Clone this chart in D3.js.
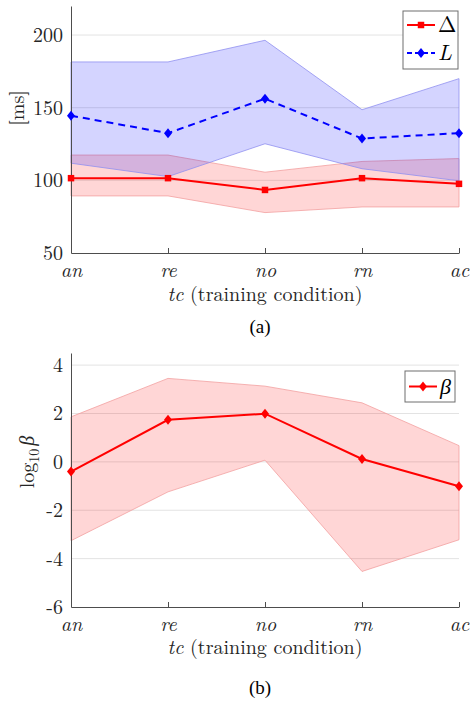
<!DOCTYPE html>
<html>
<head>
<meta charset="utf-8">
<script src="https://cdn.jsdelivr.net/npm/d3@7"></script>
<style>
  body { margin: 0; background: #fff; }
</style>
</head>
<body>
<div id="fig"></div>
<script>
// categories on x
const conditions = ["an", "re", "no", "rn", "ac"];

// panel (a): Delta and L in ms
const deltaMean = [101.5, 101.5, 93.4, 101.5, 97.6];
const deltaLow = [89.3, 89.3, 77.8, 81.7, 81.7];
const deltaHigh = [117.4, 117.4, 105.6, 113, 115];
const latMean = [144.5, 132.5, 156.2, 128.8, 132.5];
const latLow = [111.8, 102.6, 125.2, 108, 99.7];
const latHigh = [181.5, 181.5, 196.4, 148.6, 170];
const msTicks = [50, 100, 150, 200];

// panel (b): log10 beta
const betaMean = [-0.4, 1.74, 1.99, 0.12, -1.01];
const betaLow = [-3.26, -1.24, 0.07, -4.53, -3.22];
const betaHigh = [1.86, 3.45, 3.13, 2.44, 0.67];
const betaTicks = [-6, -4, -2, 0, 2, 4];

const W = 472, H = 702;
const FONT = "'Latin Modern Roman', 'CMU Serif', 'Liberation Serif', serif";
const svg = d3.select("#fig").append("svg")
    .attr("width", W).attr("height", H);
svg.append("rect").attr("width", W).attr("height", H).attr("fill", "#fff");

const axisColor = "#4d4d4d";
const fontSize = 20;

function panel(opts) {
    const g = svg.append("g");
    const x = d3.scalePoint().domain(conditions).range([71, 459]);
    const y = d3.scaleLinear().domain(opts.domain).range([opts.bottom, opts.top]);

    // grid
    g.append("g").selectAll("line")
        .data(opts.ticks.filter(function(t) { return y(t) < opts.bottom - 1; }))
        .join("line")
        .attr("x1", 71).attr("x2", 459)
        .attr("y1", function(d) { return y(d); })
        .attr("y2", function(d) { return y(d); })
        .attr("stroke", "#e3e3e3").attr("stroke-width", 1);

    // bands
    opts.series.forEach(function(s) {
        const idx = d3.range(conditions.length);
        g.append("path")
            .datum(idx)
            .attr("fill", s.fill)
            .attr("fill-opacity", s.fillOpacity)
            .attr("stroke", s.edge)
            .attr("stroke-width", 0.8)
            .attr("d", d3.area()
                .x(function(i) { return x(conditions[i]); })
                .y0(function(i) { return y(s.low[i]); })
                .y1(function(i) { return y(s.high[i]); }));
    });

    // axes
    const ax = g.append("g")
        .attr("transform", `translate(0,${opts.bottom})`)
        .call(d3.axisBottom(x).tickSizeInner(-5).tickSizeOuter(0).tickPadding(0));
    ax.select(".domain").attr("stroke", axisColor);
    ax.selectAll(".tick line").attr("stroke", axisColor);
    ax.selectAll(".tick text")
        .attr("y", 24).attr("dy", 0)
        .attr("font-size", fontSize)
        .attr("font-style", "italic")
        .attr("fill", "#262626")
        .style("font-family", FONT);

    const ay = g.append("g")
        .attr("transform", "translate(71,0)")
        .call(d3.axisLeft(y).tickValues(opts.ticks).tickSizeInner(0).tickSizeOuter(0).tickPadding(8));
    ay.select(".domain").attr("stroke", axisColor);
    ay.selectAll(".tick text")
        .attr("font-size", fontSize)
        .attr("fill", "#262626")
        .style("font-family", FONT);

    // lines and markers
    opts.series.forEach(function(s) {
        const idx = d3.range(conditions.length);
        g.append("path")
            .datum(idx)
            .attr("fill", "none")
            .attr("stroke", s.color)
            .attr("stroke-width", 2)
            .attr("stroke-dasharray", s.dash || null)
            .attr("d", d3.line()
                .x(function(i) { return x(conditions[i]); })
                .y(function(i) { return y(s.mean[i]); }));
        g.append("g").selectAll("path")
            .data(idx)
            .join("path")
            .attr("transform", function(i) { return `translate(${x(conditions[i])},${y(s.mean[i])})`; })
            .attr("d", s.symbol)
            .attr("fill", s.color);
    });

    // x label
    const xl = g.append("text")
        .attr("x", 265).attr("y", opts.bottom + opts.xlOffset)
        .attr("text-anchor", "middle")
        .attr("font-size", fontSize)
        .attr("fill", "#262626")
        .style("font-family", FONT);
    xl.append("tspan").attr("font-style", "italic").text("tc");
    xl.append("tspan").text(" (training condition)");

    // caption
    g.append("text")
        .attr("x", 260).attr("y", opts.bottom + opts.capOffset)
        .attr("text-anchor", "middle")
        .attr("font-size", 19)
        .attr("fill", "#000")
        .style("font-family", "'Liberation Serif', serif")
        .text(opts.caption);

    // legend
    const lg = g.append("g").attr("transform", `translate(${opts.legend.x},${opts.legend.y})`);
    lg.append("rect")
        .attr("width", opts.legend.w).attr("height", opts.legend.h)
        .attr("fill", "#fff").attr("stroke", "#6e6e6e").attr("stroke-width", 1);
    opts.series.forEach(function(s, k) {
        const row = lg.append("g").attr("transform", `translate(0,${opts.legend.first + k * 28})`);
        row.append("line")
            .attr("x1", 4).attr("x2", 32)
            .attr("stroke", s.color).attr("stroke-width", 2)
            .attr("stroke-dasharray", s.dash ? "5,3" : null);
        row.append("path")
            .attr("transform", "translate(18,0)")
            .attr("d", s.symbol).attr("fill", s.color);
        row.append("text")
            .attr("x", 35).attr("y", 7)
            .attr("font-size", 22)
            .attr("font-style", s.italic ? "italic" : null)
            .attr("fill", "#000")
            .style("font-family", FONT)
            .text(s.name);
    });

    return g;
}

const sq = d3.symbol().type(d3.symbolSquare).size(42)();
const diamond = "M0,-5L4,0L0,5L-4,0Z";

const pa = panel({
    domain: [50, 220], top: 6, bottom: 253, ticks: msTicks,
    xlOffset: 48, capOffset: 80, caption: "(a)",
    legend: {x: 403, y: 11, w: 55, h: 58, first: 14},
    series: [
        {name: "Δ", mean: deltaMean, low: deltaLow, high: deltaHigh, color: "#ff0000",
         fill: "#ff0000", fillOpacity: 0.16, edge: "#f2a0a0", symbol: sq},
        {name: "L", mean: latMean, low: latLow, high: latHigh, color: "#0000ff",
         fill: "#0000ff", fillOpacity: 0.17, edge: "#8f8ff0", symbol: diamond, dash: "7,5", italic: true}
    ]
});

const pb = panel({
    domain: [-6, 4.5], top: 353, bottom: 607, ticks: betaTicks,
    xlOffset: 47, capOffset: 87, caption: "(b)",
    legend: {x: 405, y: 371, w: 50, h: 31, first: 15.5},
    series: [
        {name: "β", mean: betaMean, low: betaLow, high: betaHigh, color: "#ff0000",
         fill: "#ff0000", fillOpacity: 0.16, edge: "#f2a0a0", symbol: diamond, italic: true}
    ]
});
pb.selectAll(".tick text").filter(function(d) { return typeof d === "number" && d < 0; })
    .text(function(d) { return "-" + Math.abs(d); });

// y labels
svg.append("text")
    .attr("transform", "translate(24,108) rotate(-90)")
    .attr("text-anchor", "middle")
    .attr("font-size", fontSize)
    .attr("fill", "#262626")
    .style("font-family", FONT)
    .text("[ms]");
const bl = svg.append("text")
    .attr("transform", "translate(34,462) rotate(-90)")
    .attr("text-anchor", "middle")
    .attr("font-size", fontSize)
    .attr("fill", "#262626")
    .style("font-family", FONT);
bl.append("tspan").text("log");
bl.append("tspan").attr("font-size", 14).attr("dy", 5).text("10");
bl.append("tspan").attr("dy", -5).attr("dx", 3).attr("font-style", "italic").text("β");
</script>
</body>
</html>
